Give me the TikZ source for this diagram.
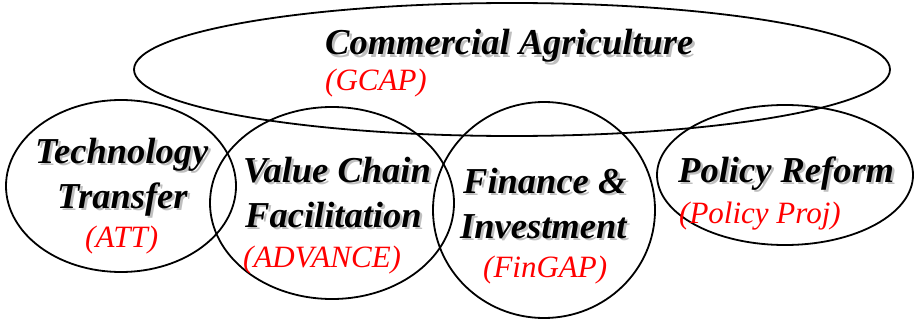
\documentclass[tikz,border=0pt]{standalone}
\usepackage{fontspec}
\setmainfont{Liberation Serif}
\newcommand\btext[4]{%
  \node[shd] (#1s) at (#2+2.5,#3+2.5) {#4};
  \node[ttl] (#1) at (#2,#3) {#4};}
\begin{document}
\begin{tikzpicture}[x=1pt,y=-1pt,
  ring/.style={draw=black,line width=1.8pt},
  ttl/.style={font=\fontsize{36.5}{36.5}\selectfont\bfseries\itshape,inner sep=0pt,anchor=base west},
  shd/.style={ttl,text=black!25},
  sub/.style={font=\fontsize{31}{31}\selectfont\itshape,text=red,inner sep=0pt,anchor=base west}]
\useasboundingbox (0,0) rectangle (915,321);
\draw[ring] (512,69.5) ellipse [x radius=378,y radius=66.5];
\draw[ring] (121,186) ellipse [x radius=115,y radius=86];
\draw[ring] (332,203) ellipse [x radius=122,y radius=96];
\draw[ring] (544,210) ellipse [x radius=111,y radius=108];
\draw[ring] (785,175) ellipse [x radius=128,y radius=70];
\btext{ca}{325}{55}{Commercial Agriculture}
\node[sub] (gcap) at (325,90) {(GCAP)};
\btext{tt1}{35}{163}{Technology}
\btext{tt2}{57}{208}{Transfer}
\node[sub] (att) at (85,247) {(ATT)};
\btext{vc1}{243}{182}{Value Chain}
\btext{vc2}{245}{227}{Facilitation}
\node[sub] (adv) at (243,267) {(ADVANCE)};
\btext{fi1}{463}{193}{Finance \&}
\btext{fi2}{460}{238}{Investment}
\node[sub] (fin) at (483,277) {(FinGAP)};
\btext{pr1}{678}{182}{Policy Reform}
\node[sub] (pp) at (679,223) {(Policy Proj)};
\end{tikzpicture}
\end{document}
